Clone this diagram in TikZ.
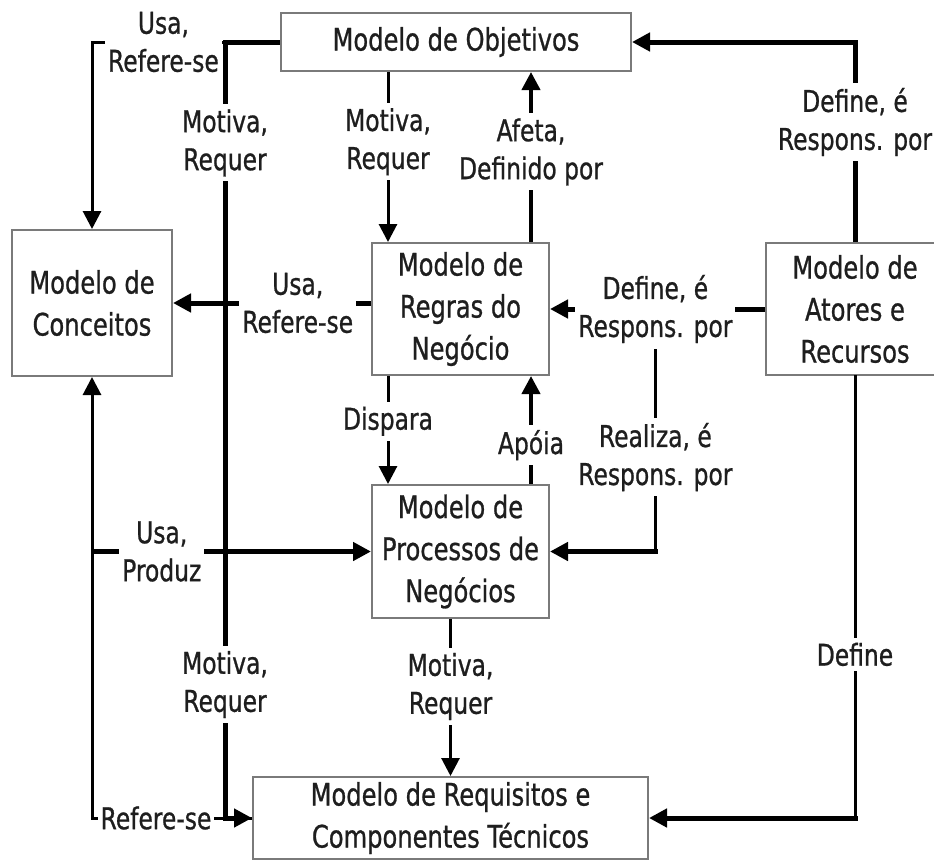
\documentclass[tikz,border=0pt]{standalone}
\usepackage{fontspec}
\setmainfont{DejaVu Sans}[FakeStretch=0.78, FakeBold=0.8]
\usetikzlibrary{arrows.meta}

\definecolor{ink}{HTML}{1E1E1E}
\definecolor{frame}{HTML}{7A7A7A}

\tikzset{
  model/.style={draw=frame, line width=2pt, fill=white, align=center,
    inner sep=0pt, text=ink, font=\fontsize{31}{42}\selectfont},
  lbl/.style={fill=white, align=center, inner xsep=3pt, inner ysep=5pt,
    text=ink, font=\fontsize{30}{38}\selectfont},
  thinL/.style={line width=3pt, draw=black},
  midL/.style={line width=4pt, draw=black},
  thickL/.style={line width=5pt, draw=black},
  >={Triangle[length=18pt,width=18pt]}
}

\begin{document}
\begin{tikzpicture}[x=1pt,y=-1pt]
  \fill[white] (0,0) rectangle (934,862);
  \useasboundingbox (0,0) rectangle (934,862);

  % models
  \node[model, minimum width=350pt, minimum height=58pt] (obj) at (456,42) {Modelo de Objetivos};
  \node[model, minimum width=160pt, minimum height=146pt] (conc) at (92,303) {Modelo de\\Conceitos};
  \node[model, minimum width=177pt, minimum height=132pt] (reg) at (460.5,309) {Modelo de\\Regras do\\Negócio};
  \node[model, minimum width=178pt, minimum height=132pt] (ato) at (855,309) {Modelo de\\Atores e\\Recursos};
  \node[model, minimum width=177pt, minimum height=133pt] (proc) at (460.5,551.5) {Modelo de\\Processos de\\Negócios};
  \node[model, minimum width=395pt, minimum height=82pt] (req) at (450.5,818) {Modelo de Requisitos e\\Componentes Técnicos};

  % helper points on the box edges
  \coordinate (rL) at ([xshift=-72.5pt]reg.north);
  \coordinate (rR) at ([xshift=70.5pt]reg.north);
  \coordinate (pL) at ([xshift=-72.5pt]proc.north);
  \coordinate (pR) at ([xshift=70.5pt]proc.north);
  \coordinate (busM) at ([xshift=-27pt]req.west);

  % Objetivos -> Conceitos
  \draw[thinL, ->] (obj.west) -| node[lbl, pos=0.31] {Usa,\\Refere-se} (conc.north);

  % Conceitos <- left bus -> Requisitos
  \draw[thinL, <-] (conc.south) |- node[lbl, pos=0.70] {Refere-se} (req.west);

  % Objetivos -> Requisitos (thick bus)
  \draw[thickL, ->, line join=miter] (obj.west) -| node[lbl, pos=0.565] {Motiva,\\Requer}
        node[lbl, pos=0.914] {Motiva,\\Requer} (busM) -- (req.west);

  % Processos uses Conceitos
  \coordinate (jP) at (conc.south |- proc.west);
  \draw[thickL, ->] (jP) -- node[lbl, pos=0.25] {Usa,\\Produz} (proc.west);

  % Regras -> Conceitos
  \draw[thickL, ->] (reg.west |- conc.east) -- node[lbl, pos=0.37] {Usa,\\Refere-se} (conc.east);

  % Objetivos <-> Regras
  \draw[thinL, ->] (rL |- obj.south) -- node[lbl, pos=0.41] {Motiva,\\Requer} (rL);
  \draw[midL, ->] (rR) -- node[lbl, pos=0.53] {Afeta,\\Definido por} (rR |- obj.south);

  % Atores -> Objetivos
  \draw[thickL, ->, line join=miter] (ato.north) |- node[lbl, pos=0.3] {Define, é\\Respons. por} (obj.east);

  % Atores -> Regras
  \draw[thickL, ->] (ato.west) -- node[lbl, pos=0.51] (dr) {Define, é\\Respons. por} (reg.east);

  % Atores -> Processos
  \coordinate (rk) at (dr.south |- proc.east);
  \draw[thinL, line cap=rect] (dr.south) -- node[lbl, pos=0.53] {Realiza, é\\Respons. por} (rk);
  \draw[thickL, ->, line cap=rect] (rk) -- (proc.east);

  % Regras <-> Processos
  \draw[thinL, ->] (pL |- reg.south) -- node[lbl, pos=0.42] {Dispara} (pL);
  \draw[midL, ->] (pR) -- node[lbl, pos=0.36] {Apóia} (pR |- reg.south);

  % Processos -> Requisitos
  \draw[thinL, ->] (proc.south -| req.north) -- node[lbl, pos=0.43] {Motiva,\\Requer} (req.north);

  % Atores -> Requisitos
  \coordinate (dk) at (ato.south |- req.east);
  \draw[thinL, line cap=rect] (ato.south) -- node[lbl, pos=0.63] {Define} (dk);
  \draw[thickL, ->, line cap=rect] (dk) -- (req.east);
\end{tikzpicture}
\end{document}
